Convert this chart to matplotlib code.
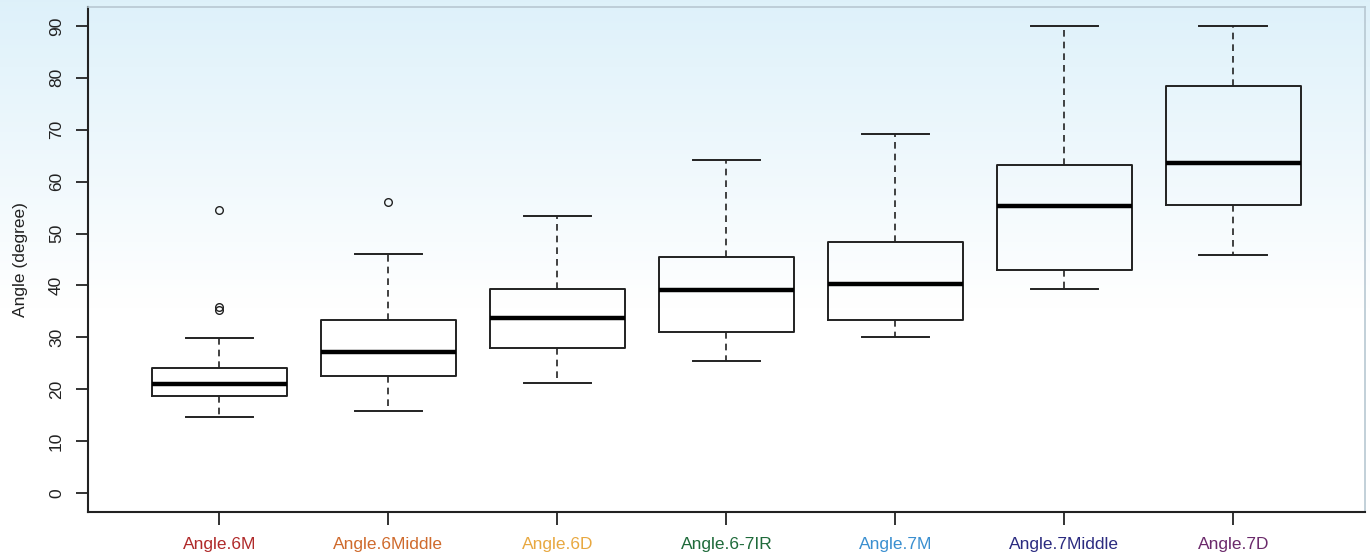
import numpy as np
import matplotlib
matplotlib.use("Agg")
from matplotlib import pyplot as plt

plt.rcParams["font.family"] = ["Liberation Sans", "DejaVu Sans"]

labels = ["Angle.6M", "Angle.6Middle", "Angle.6D", "Angle.6-7IR",
          "Angle.7M", "Angle.7Middle", "Angle.7D"]
label_colors = ["#b02a2a", "#cf6a2c", "#e8a840", "#1e6a3a",
                "#3a8fd0", "#2b2b80", "#6b2a6b"]

whis_lo = [14.7, 15.8, 21.2, 25.4, 30.1, 39.3, 45.9]
q1 = [18.7, 22.5, 27.9, 31.1, 33.3, 43.0, 55.5]
median = [21.0, 27.2, 33.7, 39.1, 40.3, 55.3, 63.6]
q3 = [24.1, 33.3, 39.3, 45.5, 48.4, 63.2, 78.4]
whis_hi = [29.9, 46.1, 53.4, 64.1, 69.2, 90.0, 90.0]
outliers = [[35.2, 35.9, 54.6], [56.1], [], [], [], [], []]

stats = []
for i, lab in enumerate(labels):
    stats.append(dict(label=lab, med=median[i], q1=q1[i], q3=q3[i],
                      whislo=whis_lo[i], whishi=whis_hi[i],
                      fliers=outliers[i]))

fig = plt.figure(figsize=(13.70, 5.58), dpi=100)

# light blue wash fading to white down the page
bg = fig.add_axes([0, 0, 1, 1], zorder=-10)
t = np.linspace(0, 1, 300)[:, None]
fade = np.clip(t / 0.55, 0, 1)
top = np.array([0.87, 0.945, 0.98])
grad = top[None, None, :] * (1 - fade[..., None]) + fade[..., None]
grad = np.repeat(grad, 2, axis=1)
bg.imshow(grad, aspect="auto", extent=[0, 1, 0, 1], origin="upper")
bg.set_axis_off()

ax = fig.add_axes([0.064, 0.083, 0.9324, 0.905])
ax.patch.set_alpha(0)

ax.bxp(stats, positions=np.arange(1, 8), widths=0.8, patch_artist=False,
       boxprops=dict(color="#222222", lw=1.4),
       medianprops=dict(color="black", lw=3.2, solid_capstyle="butt"),
       whiskerprops=dict(color="#222222", lw=1.2, linestyle=(0, (4, 3))),
       capprops=dict(color="#222222", lw=1.4),
       flierprops=dict(marker="o", markersize=5.5, markerfacecolor="none",
                       markeredgecolor="#222222", markeredgewidth=1.0),
       capwidths=0.4)

ax.set_xlim(0.22, 7.78)
ax.set_ylim(-3.6, 93.7)
ax.set_yticks(np.arange(0, 91, 10))
ax.set_yticklabels([str(v) for v in range(0, 91, 10)], rotation=90,
                   va="center", fontsize=12.5, color="#222222")
ax.set_xticks(np.arange(1, 8))
ax.set_xticklabels(labels, fontsize=12.5)
for tl, c in zip(ax.get_xticklabels(), label_colors):
    tl.set_color(c)
ax.tick_params(axis="both", length=9, width=1.3, color="#222222")
ax.tick_params(axis="x", pad=9)
ax.tick_params(axis="y", pad=8)

ax.set_ylabel("Angle (degree)", fontsize=12.5, color="#222222")
ax.yaxis.set_label_coords(-0.047, 0.5)

for s in ("left", "bottom"):
    ax.spines[s].set_color("#222222")
    ax.spines[s].set_linewidth(1.5)
for s in ("top", "right"):
    ax.spines[s].set_color("#b8c8d2")
    ax.spines[s].set_linewidth(1.2)

fig.savefig("out.png", dpi=100)
